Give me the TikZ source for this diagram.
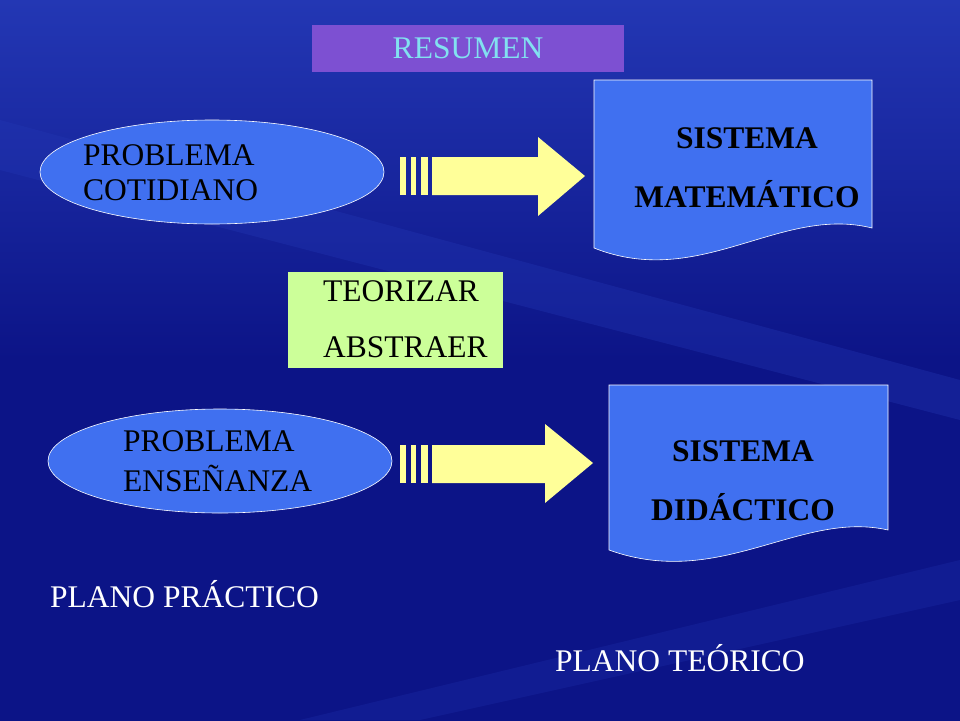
\documentclass[tikz,border=0pt]{standalone}
\usepackage{fontspec}
\setmainfont{Liberation Serif}
\usetikzlibrary{shapes.geometric}
\definecolor{bg}{RGB}{12,20,135}
\definecolor{bgl}{RGB}{35,55,180}
\definecolor{blu}{RGB}{64,112,240}
\definecolor{purp}{RGB}{125,80,210}
\definecolor{cyantxt}{RGB}{130,225,240}
\definecolor{yel}{RGB}{255,255,153}
\definecolor{grn}{RGB}{204,255,153}
\tikzset{
 ell/.style={ellipse,fill=blu,draw=white,line width=0.6pt,minimum width=344pt,minimum height=104pt},
 txt/.style={font=\fontsize{31.5}{36}\selectfont,inner sep=0pt,anchor=west},
 btxt/.style={font=\fontsize{31.5}{36}\selectfont\bfseries,inner sep=0pt},
 doc/.style={fill=blu,draw=white,line width=0.6pt},
 arr/.style={fill=yel,draw=none}
}
\begin{document}
\begin{tikzpicture}[x=1pt,y=-1pt]
\useasboundingbox (0,0) rectangle (960,720);
\shade[top color=bgl,bottom color=bg,middle color=bg] (0,0) rectangle (960,720);
\fill[bgl,opacity=0.35] (0,120) -- (960,380) -- (960,420) -- (0,170) -- cycle;
\fill[bgl,opacity=0.25] (300,720) -- (960,560) -- (960,600) -- (420,720) -- cycle;
% title
\node[fill=purp,minimum width=312pt,minimum height=47pt,inner sep=0pt,text=cyantxt,font=\fontsize{31.5}{36}\selectfont] (title) at (468,48.5) {RESUMEN};
% ellipse 1
\node[ell] (e1) at (212,172) {};
\node[txt] (e1a) at (83,155) {PROBLEMA};
\node[txt] (e1b) at (83,190) {COTIDIANO};
% arrow 1
\fill[arr] (400,157) rectangle (406,195);
\fill[arr] (411,157) rectangle (416,195);
\fill[arr] (421,157) rectangle (428,195);
\fill[arr] (432,157) -- (538,157) -- (538,137) -- (585,176) -- (538,216) -- (538,195) -- (432,195) -- cycle;
% doc 1
\draw[doc] (594,80) -- (872,80) -- (872,228) .. controls (780,205) and (700,290) .. (594,248) -- cycle;
\node[btxt] (s1a) at (747,138) {SISTEMA};
\node[btxt] (s1b) at (747,194) {MATEMÁTICO};
% green
\node[fill=grn,minimum width=215pt,minimum height=96pt,inner sep=0pt] (g) at (395.5,320) {};
\node[txt] (g1) at (323,291) {TEORIZAR};
\node[txt] (g2) at (323,347) {ABSTRAER};
% ellipse 2
\node[ell] (e2) at (220,461) {};
\node[txt] (e2a) at (123,441) {PROBLEMA};
\node[txt] (e2b) at (123,478) {ENSEÑANZA};
% arrow 2
\fill[arr] (400,445) rectangle (406,483);
\fill[arr] (411,445) rectangle (416,483);
\fill[arr] (421,445) rectangle (428,483);
\fill[arr] (432,445) -- (545,445) -- (545,424) -- (593,463) -- (545,503) -- (545,483) -- (432,483) -- cycle;
% doc 2
\draw[doc] (609,385) -- (888,385) -- (888,530) .. controls (800,510) and (720,590) .. (609,550) -- cycle;
\node[btxt] (s2a) at (743,451) {SISTEMA};
\node[btxt] (s2b) at (743,507) {DIDÁCTICO};
% planes
\node[txt,text=white] (pp) at (50,594) {PLANO PRÁCTICO};
\node[txt,text=white] (pt) at (555,658) {PLANO TEÓRICO};
\end{tikzpicture}
\end{document}
